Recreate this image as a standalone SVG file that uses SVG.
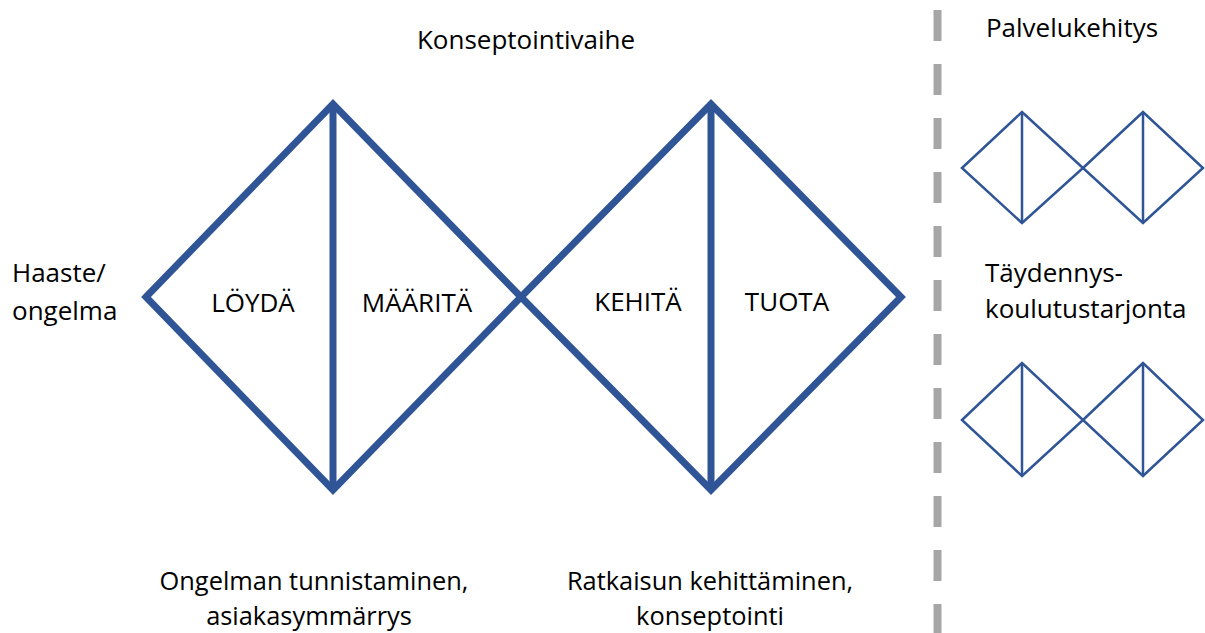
<svg xmlns="http://www.w3.org/2000/svg" width="1205" height="633" viewBox="0 0 1205 633">
<style>
text{font-family:"Open Sans","Liberation Sans",sans-serif;font-size:26px;fill:#000}
.cap{font-size:25.4px}
.big{fill:none;stroke:#2F5597;stroke-width:7;stroke-linejoin:miter}
.small{fill:none;stroke:#2F5597;stroke-width:2.5}
.mid{text-anchor:middle}
</style>
<rect width="1205" height="633" fill="#fff"/>
<g id="title"><text class="mid" x="526" y="49">Konseptointivaihe</text></g>
<g id="input"><text x="12" y="282">Haaste/</text><text x="12" y="320">ongelma</text></g>
<g id="diamond1">
<polygon class="big" points="146,297 333,104 521,297 333,490"/>
<line class="big" x1="333" y1="104" x2="333" y2="490"/>
<text class="mid" x="253" y="312">LÖYDÄ</text>
<text class="mid" x="417" y="312">MÄÄRITÄ</text>
</g>
<g id="diamond2">
<polygon class="big" points="521,297 711,104 901,297 711,490"/>
<line class="big" x1="711" y1="104" x2="711" y2="490"/>
<text class="mid" x="638" y="311">KEHITÄ</text>
<text class="mid" x="787" y="311">TUOTA</text>
</g>
<g id="caption1"><text class="mid cap" x="314" y="590">Ongelman tunnistaminen,</text><text class="mid cap" x="309" y="625">asiakasymmärrys</text></g>
<g id="caption2"><text class="mid cap" x="710" y="590">Ratkaisun kehittäminen,</text><text class="mid cap" x="710" y="625">konseptointi</text></g>
<g id="connectors">
<line x1="937.5" y1="10" x2="937.5" y2="633" stroke="#A6A6A6" stroke-width="8" stroke-dasharray="31 23"/>
</g>
<g id="service"><text class="mid" x="1072" y="37">Palvelukehitys</text>
<polygon class="small" points="962,168 1022,112 1083,168 1022,223"/>
<polygon class="small" points="1083,168 1143,112 1203,168 1143,223"/>
<line class="small" x1="1022" y1="112" x2="1022" y2="223"/>
<line class="small" x1="1143" y1="112" x2="1143" y2="223"/>
</g>
<g id="training"><text x="985" y="282">Täydennys-</text><text x="985" y="318">koulutustarjonta</text>
<polygon class="small" points="962,420 1022,363 1083,420 1022,476"/>
<polygon class="small" points="1083,420 1143,363 1203,420 1143,476"/>
<line class="small" x1="1022" y1="363" x2="1022" y2="476"/>
<line class="small" x1="1143" y1="363" x2="1143" y2="476"/>
</g>
</svg>
